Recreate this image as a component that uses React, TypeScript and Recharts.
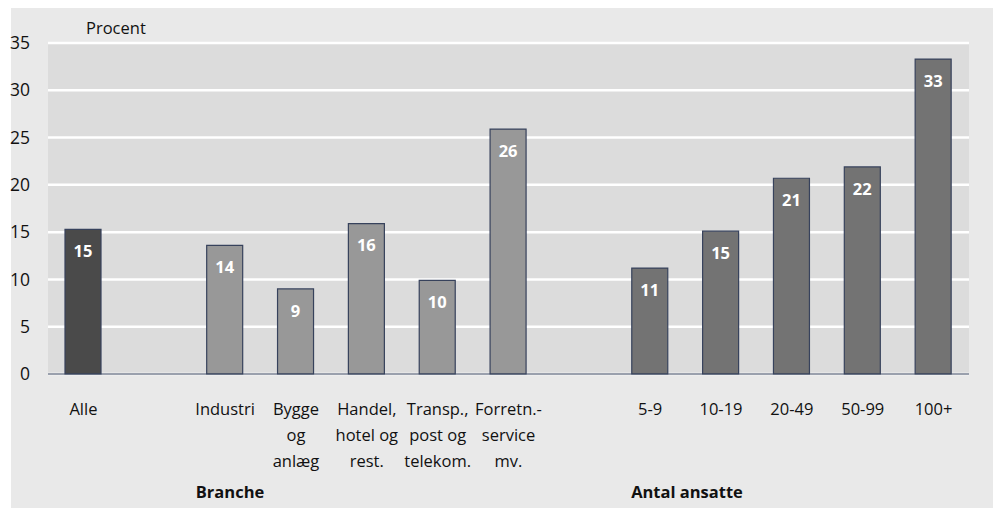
import { Bar, BarChart, CartesianGrid, Cell, LabelList, XAxis, YAxis } from "recharts"

// one entry per slot on the x axis; empty strings are spacer slots between the groups
const CATEGORIES = [
  "Alle",
  "",
  "Industri",
  "Bygge\nog\nanlæg",
  "Handel,\nhotel og\nrest.",
  "Transp.,\npost og\ntelekom.",
  "Forretn.-\nservice\nmv.",
  "",
  "5-9",
  "10-19",
  "20-49",
  "50-99",
  "100+",
]
const GROUPS = ["alle", "", "branche", "branche", "branche", "branche", "branche", "", "ansatte", "ansatte", "ansatte", "ansatte", "ansatte"]
const VALUES: (number | null)[] = [15.3, null, 13.6, 9.0, 15.9, 9.9, 25.9, null, 11.2, 15.1, 20.7, 21.9, 33.3]
const Y_TICKS = [0, 5, 10, 15, 20, 25, 30, 35]

const FILLS: Record<string, string> = {
  alle: "#4a4a4a",
  branche: "#989898",
  ansatte: "#737373",
}
const EDGE = "#37425c"
const FONT = "'Open Sans', sans-serif"

const data = CATEGORIES.map((name, i) => ({ name, group: GROUPS[i], value: VALUES[i] }))

function CategoryTick({ x, y, payload }: any) {
  const lines = String(payload.value).split("\n")
  return (
    <text x={x} y={y + 33} textAnchor="middle" fontFamily={FONT} fontSize={16.5} fill="#111">
      {lines.map((line, i) => (
        <tspan key={i} x={x} dy={i === 0 ? 0 : 26}>
          {line}
        </tspan>
      ))}
    </text>
  )
}

export default function App() {
  return (
    <div style={{ position: "absolute", left: 0, top: 0, width: 997, height: 508, background: "#fff" }}>
      <div style={{ position: "absolute", left: 11, top: 8, width: 982, height: 500, background: "#e9e9e9" }} />
      <div style={{ position: "absolute", left: 0, top: 0 }}>
        <BarChart width={997} height={508} data={data} margin={{ top: 43, right: 28, bottom: 104, left: 0 }}>
          <CartesianGrid vertical={false} stroke="#ffffff" strokeWidth={2.5} fill="#dcdcdc" fillOpacity={1} />
          <XAxis
            dataKey="name"
            height={30}
            interval={0}
            tickLine={false}
            axisLine={{ stroke: EDGE, strokeWidth: 1.2 }}
            tick={<CategoryTick />}
          />
          <YAxis
            width={48}
            domain={[0, 35]}
            ticks={Y_TICKS}
            interval={0}
            tickLine={false}
            axisLine={false}
            tickSize={0}
            tickMargin={18}
            tick={{ fill: "#111", fontSize: 17.5, fontFamily: FONT }}
          />
          <Bar dataKey="value" barSize={36} stroke={EDGE} strokeWidth={1.2} isAnimationActive={false}>
            {data.map((d, i) => (
              <Cell key={i} fill={FILLS[d.group] ?? "none"} />
            ))}
            <LabelList
              dataKey="value"
              position="insideTop"
              offset={16}
              formatter={(v: any) => (v == null ? "" : Math.round(v))}
              fill="#ffffff"
              fontSize={16.5}
              fontWeight={700}
              fontFamily={FONT}
            />
          </Bar>
        </BarChart>
      </div>
      <div style={{ position: "absolute", left: 86, top: 16, fontFamily: FONT, fontSize: 16.5, color: "#111" }}>Procent</div>
      <div
        style={{ position: "absolute", left: 230, top: 480, transform: "translateX(-50%)", fontFamily: FONT, fontSize: 16.5, fontWeight: 700, color: "#111" }}
      >
        Branche
      </div>
      <div
        style={{ position: "absolute", left: 687, top: 480, transform: "translateX(-50%)", fontFamily: FONT, fontSize: 16.5, fontWeight: 700, color: "#111", whiteSpace: "nowrap" }}
      >
        Antal ansatte
      </div>
    </div>
  )
}
